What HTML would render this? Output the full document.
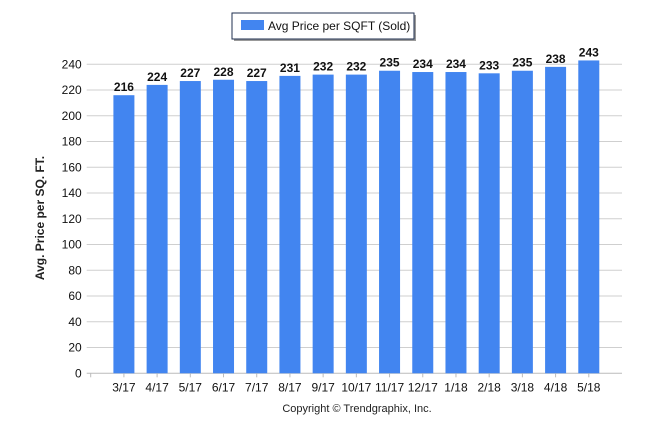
<!DOCTYPE html>
<html><head><meta charset="utf-8"><style>
body{margin:0;background:#fff;}
svg{display:block;font-family:"Liberation Sans",sans-serif;}
</style></head><body>
<svg id="chart" width="646" height="434">
<g>
<rect x="234" y="15" width="182" height="26" fill="#999"/>
<rect x="232" y="13" width="182" height="26" fill="#fff" stroke="#1f2f4f" stroke-width="1"/>
<rect x="241" y="20" width="23" height="10" fill="#4285f0"/>
<text x="268" y="30" font-size="12" fill="#111">Avg Price per SQFT (Sold)</text>
</g>
<g id="grid"></g><g id="bars"></g><g id="axes"></g>
<text transform="translate(44,218) rotate(-90)" text-anchor="middle" font-size="12" font-weight="bold" fill="#222">Avg. Price per SQ. FT.</text>
<text x="357" y="412" text-anchor="middle" font-size="11" fill="#222">Copyright © Trendgraphix, Inc.</text>
</svg>
<script>
const categories=["3/17","4/17","5/17","6/17","7/17","8/17","9/17","10/17","11/17","12/17","1/18","2/18","3/18","4/18","5/18"];
const values=[216,224,227,228,227,231,232,232,235,234,234,233,235,238,243];
const yTicks=[0,20,40,60,80,100,120,140,160,180,200,220,240];
const NS="http://www.w3.org/2000/svg";
const x0=90.7,x1=622,y0=373.3,pxPerUnit=1.2875;
const band=(x1-x0)/(categories.length+1);
const xs=i=>x0+band*(i+1);
const ys=v=>y0-v*pxPerUnit;
function mk(t,a,p){const e=document.createElementNS(NS,t);for(const k in a)e.setAttribute(k,a[k]);p.appendChild(e);return e;}
const grid=document.getElementById('grid'),bars=document.getElementById('bars'),axes=document.getElementById('axes');
yTicks.forEach(v=>{
 const l=mk('line',{x1:x0-4,x2:x1,y1:ys(v),y2:ys(v),stroke:v===0?'#bbb':'#cfcfcf','stroke-width':1},grid);
 
 
 const t=mk('text',{x:x0-9,y:ys(v)+4,'text-anchor':'end','font-size':12,fill:'#111'},axes);
 t.textContent=v;
 
 
});
const yax=mk('line',{x1:x0,x2:x0,y1:ys(0),y2:ys(0)+4,stroke:'#bbb'},axes);


categories.forEach((c,i)=>{
 const cx=xs(i),bw=21;
 const r=mk('rect',{x:cx-bw/2,y:ys(values[i]),width:bw,height:ys(0)-ys(values[i]),fill:'#4285f0'},bars);
 
 
 const vl=mk('text',{x:cx,y:ys(values[i])-4,'text-anchor':'middle','font-size':12,'font-weight':'bold',fill:'#111'},bars);
 vl.textContent=values[i];
 
 
 const tk=mk('line',{x1:cx,x2:cx,y1:ys(0),y2:ys(0)+4,stroke:'#bbb'},axes);
 
 
 const xl=mk('text',{x:cx,y:ys(0)+18,'text-anchor':'middle','font-size':12,fill:'#111'},axes);
 xl.textContent=c;
 
 
});
</script>
</body></html>
